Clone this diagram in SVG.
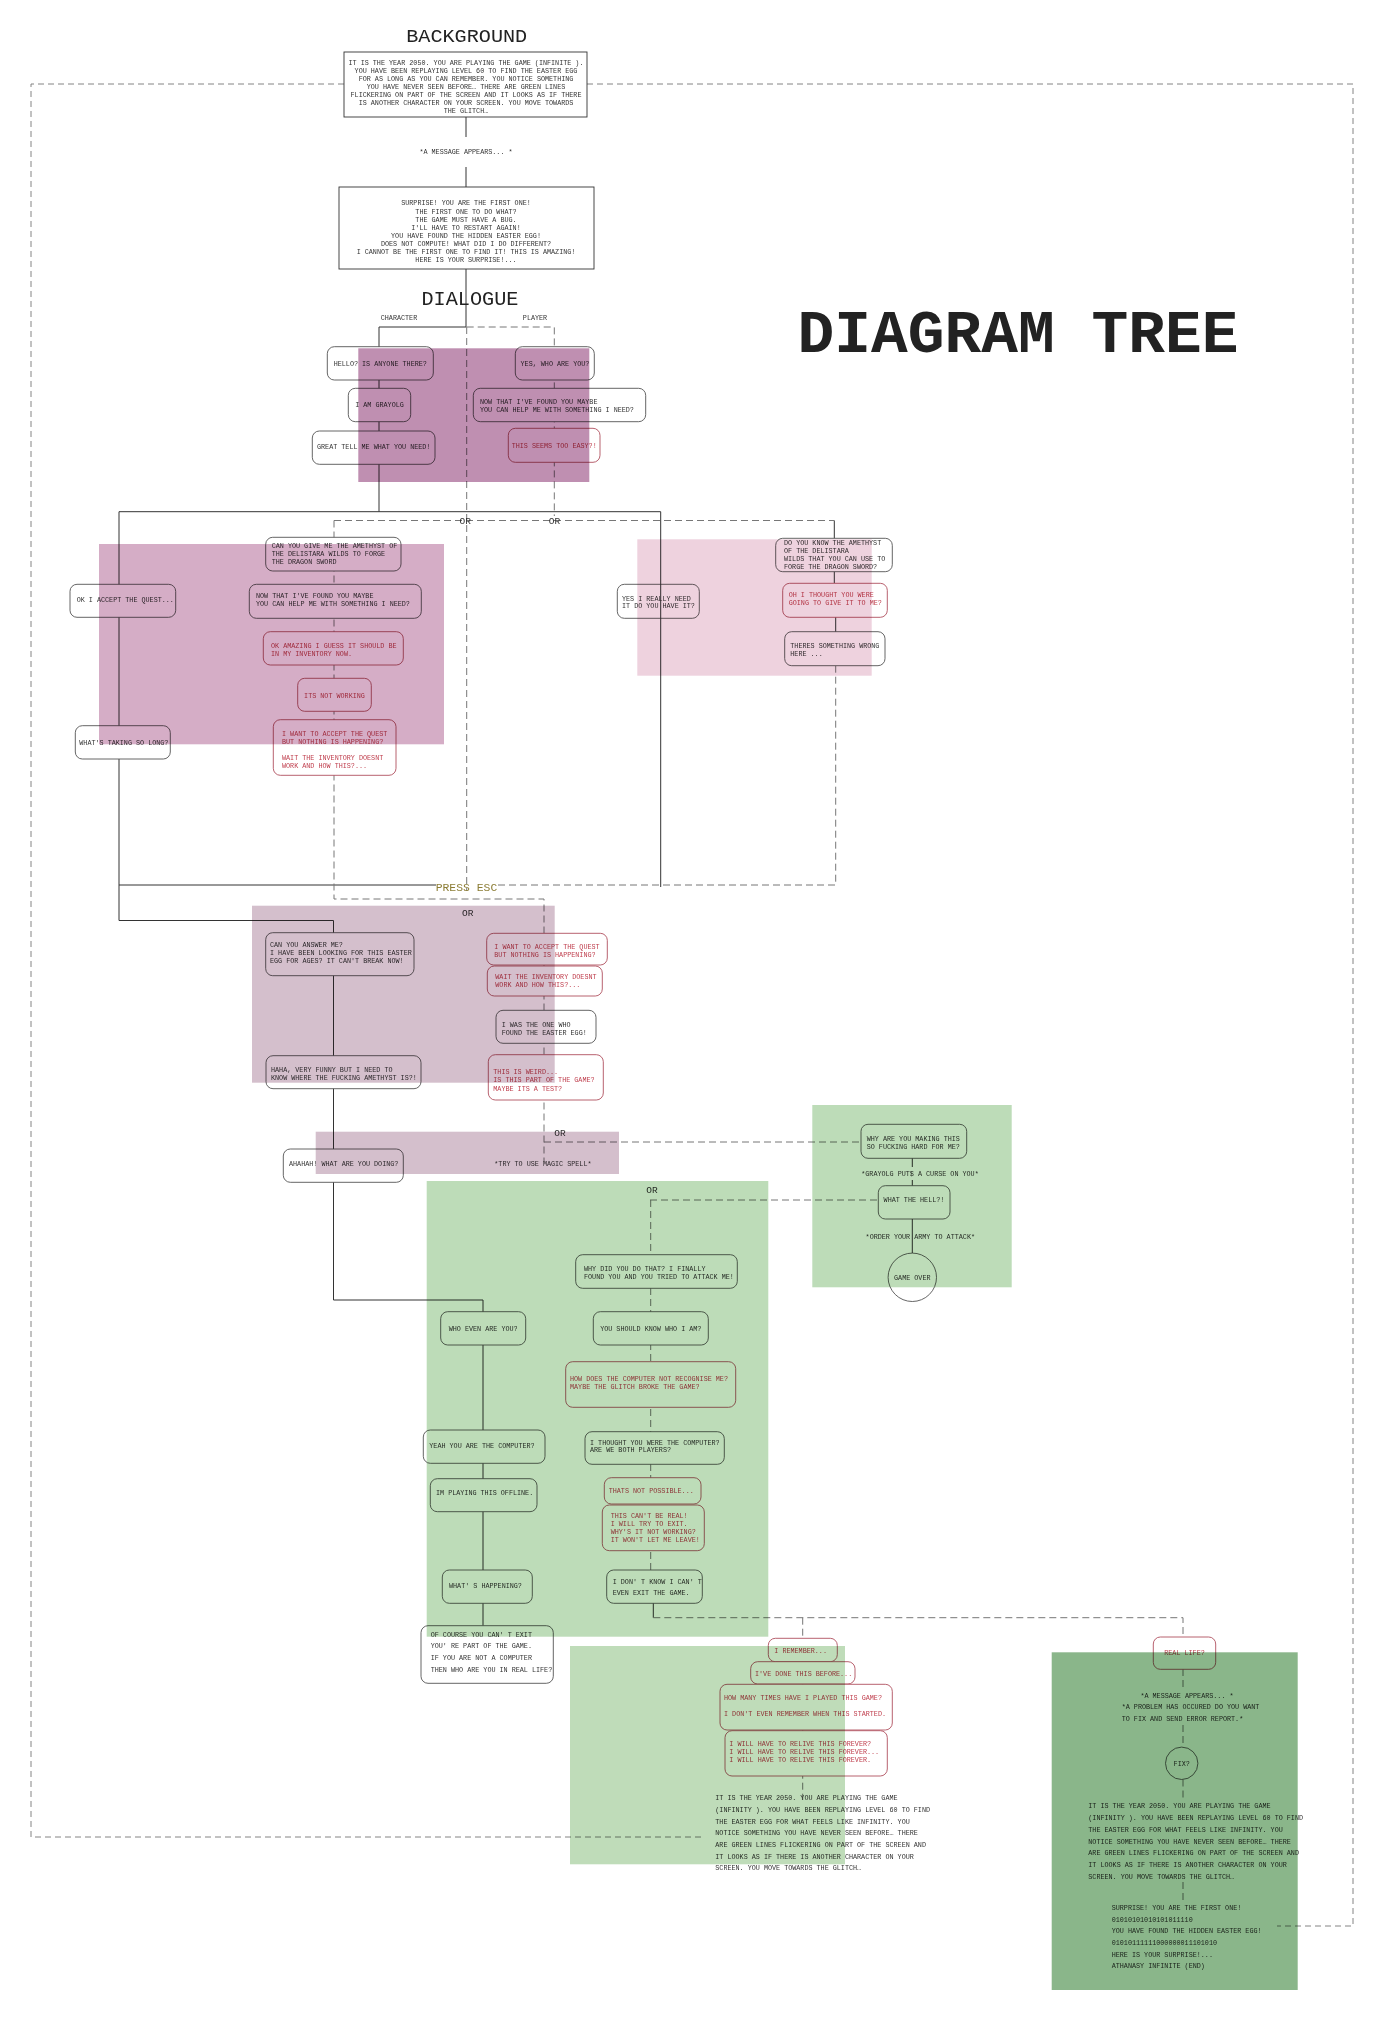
<svg xmlns="http://www.w3.org/2000/svg" width="1396" height="2026" viewBox="0 0 1396 2026">
<style>
.t{font-family:"Liberation Mono","DejaVu Sans Mono",monospace;font-size:6.75px;fill:#333}
.tr{fill:#c0404f}
.c{text-anchor:middle}
.ti{font-family:"Liberation Mono","DejaVu Sans Mono",monospace;fill:#222}
.or{font-family:"Liberation Mono","DejaVu Sans Mono",monospace;font-size:9.5px;fill:#333;text-anchor:middle}
.box{fill:#fff;stroke:#555;stroke-width:0.9}
.rbox{fill:#fff;stroke:#b0505f;stroke-width:0.9}
.sq{fill:#fff;stroke:#333;stroke-width:0.9}
.ln{stroke:#333;stroke-width:1;fill:none}
.dl{stroke:#777;stroke-width:1;stroke-dasharray:7 4;fill:none}
.fr{stroke:#777;stroke-width:0.9;stroke-dasharray:6 4;fill:none}
.ov{mix-blend-mode:multiply}
</style>
<rect width="1396" height="2026" fill="#fff"/>

<g id="connectors">
<path class="fr" d="M344,84 H31 V1837 H705 M587,84 H1353 V1926 H1277"/>
<path class="ln" d="M466,117 V137 M466,167 V187 M466,269 V327 H379 V511.7 M119,511.7 H660.7 M119,511.7 V920.5 H333.5 V1300 H483 V1625.7 M119,885 H436 M834.3,520.5 V583 M835.7,617 V632 M912.3,1158 V1167 M912.3,1180 V1186 M653.3,1603 V1617.7"/>
<path class="dl" d="M466.7,327 H554.3 V516 M466.7,327 V891 M334,520.5 H834.3 M334,520.5 V899 H544 V1162 M835.7,665.7 V885 M498,885 H835.7 M544,1142 H861 M650,1200 H878 M650.7,1200 V1570 M653.3,1617.7 H1183 V1637 M802.7,1617.7 V1800 M1183,1669 V1690 M1183,1725 V1747 M1183,1779.5 V1798 M1183,1882 V1902"/>
</g>

<g id="titles">
<text class="ti c" x="466.7" y="41.5" font-size="18" textLength="121" lengthAdjust="spacingAndGlyphs">BACKGROUND</text>
<text class="ti c" x="470" y="305" font-size="21" textLength="97" lengthAdjust="spacingAndGlyphs">DIALOGUE</text>
<text class="ti" x="797.5" y="351.6" font-size="62" font-weight="bold" textLength="441" lengthAdjust="spacingAndGlyphs">DIAGRAM TREE</text>
<text class="t c" x="399" y="320">CHARACTER</text>
<text class="t c" x="535" y="320">PLAYER</text>
</g>

<g id="bg1">
<rect class="sq" x="344" y="52" width="243" height="65"/>
<text class="t c" x="466" y="64.5">IT IS THE YEAR 2050. YOU ARE PLAYING THE GAME (INFINITE ).</text>
<text class="t c" x="466" y="72.5">YOU HAVE BEEN REPLAYING LEVEL 60 TO FIND THE EASTER EGG</text>
<text class="t c" x="466" y="80.5">FOR AS LONG AS YOU CAN REMEMBER. YOU NOTICE SOMETHING</text>
<text class="t c" x="466" y="88.5">YOU HAVE NEVER SEEN BEFORE… THERE ARE GREEN LINES</text>
<text class="t c" x="466" y="96.5">FLICKERING ON PART OF THE SCREEN AND IT LOOKS AS IF THERE</text>
<text class="t c" x="466" y="104.5">IS ANOTHER CHARACTER ON YOUR SCREEN. YOU MOVE TOWARDS</text>
<text class="t c" x="466" y="112.5">THE GLITCH…</text>
</g>
<g id="msg1"><text class="t c" x="466" y="154">*A MESSAGE APPEARS... *</text></g>
<g id="bg2">
<rect class="sq" x="339" y="187" width="255" height="82"/>
<text class="t c" x="466" y="205.3" font-size="6.4">SURPRISE! YOU ARE THE FIRST ONE!</text>
<text class="t c" x="466" y="213.5" font-size="6.4">THE FIRST ONE TO DO WHAT?</text>
<text class="t c" x="466" y="221.5" font-size="6.4">THE GAME MUST HAVE A BUG.</text>
<text class="t c" x="466" y="229.5" font-size="6.4">I'LL HAVE TO RESTART AGAIN!</text>
<text class="t c" x="466" y="237.5" font-size="6.4">YOU HAVE FOUND THE HIDDEN EASTER EGG!</text>
<text class="t c" x="466" y="245.5" font-size="6.4">DOES NOT COMPUTE! WHAT DID I DO DIFFERENT?</text>
<text class="t c" x="466" y="253.5" font-size="6.4">I CANNOT BE THE FIRST ONE TO FIND IT! THIS IS AMAZING!</text>
<text class="t c" x="466" y="261.5" font-size="6.4">HERE IS YOUR SURPRISE!...</text>
</g>

<g id="n-hello"><rect class="box" x="327.3" y="346.7" width="106" height="33.3" rx="7"/><text class="t c" x="380.3" y="365.5">HELLO? IS ANYONE THERE?</text></g>
<g id="n-yes"><rect class="box" x="515.3" y="346.7" width="79" height="33.3" rx="7"/><text class="t c" x="555" y="365.5">YES, WHO ARE YOU?</text></g>
<g id="n-iam"><rect class="box" x="348.3" y="388.3" width="62.4" height="33.4" rx="7"/><text class="t c" x="379.5" y="407.2">I AM  GRAYOLG</text></g>
<g id="n-now1"><rect class="box" x="473.3" y="388.3" width="172.4" height="33.4" rx="7"/><text class="t" x="480" y="403.5">NOW THAT I'VE FOUND YOU MAYBE</text><text class="t" x="480" y="411.9">YOU CAN HELP ME WITH SOMETHING I NEED?</text></g>
<g id="n-great"><rect class="box" x="312.3" y="431" width="122.7" height="33.3" rx="7"/><text class="t c" x="373.7" y="448.9">GREAT TELL ME WHAT YOU NEED!</text></g>
<g id="n-easy"><rect class="rbox" x="508.3" y="428.3" width="91.7" height="34" rx="7"/><text class="t tr c" x="554.2" y="448.2">THIS SEEMS TOO EASY?!</text></g>

<g id="n-give"><rect class="box" x="265.7" y="537.3" width="135.3" height="33.7" rx="7"/><text class="t" x="271.7" y="548.2">CAN YOU GIVE ME THE AMETHYST OF</text><text class="t" x="271.7" y="556.2">THE  DELISTARA WILDS TO FORGE</text><text class="t" x="271.7" y="564.2">THE DRAGON SWORD</text></g>
<g id="n-accept"><rect class="box" x="70" y="584.3" width="105.7" height="33" rx="7"/><text class="t" x="76.7" y="602.2">OK I ACCEPT THE QUEST...</text></g>
<g id="n-now2"><rect class="box" x="249.3" y="584.3" width="172" height="34" rx="7"/><text class="t" x="256" y="597.5">NOW THAT I'VE FOUND YOU MAYBE</text><text class="t" x="256" y="605.5">YOU CAN HELP ME WITH SOMETHING I NEED?</text></g>
<g id="n-amazing"><rect class="rbox" x="263.3" y="631.7" width="140" height="33.3" rx="7"/><text class="t tr" x="271" y="647.9">OK AMAZING I GUESS IT SHOULD BE</text><text class="t tr" x="271" y="656.2">IN MY INVENTORY NOW.</text></g>
<g id="n-notworking"><rect class="rbox" x="297.7" y="678.3" width="73.6" height="33" rx="7"/><text class="t tr c" x="334.5" y="698.2">ITS NOT WORKING</text></g>
<g id="n-taking"><rect class="box" x="75.3" y="725.7" width="95" height="33.3" rx="7"/><text class="t" x="79.3" y="744.9">WHAT'S TAKING SO LONG?</text></g>
<g id="n-want1"><rect class="rbox" x="273.3" y="719.7" width="122.7" height="55.6" rx="7"/><text class="t tr" x="282" y="736.2">I WANT TO ACCEPT THE QUEST</text><text class="t tr" x="282" y="744.2">BUT NOTHING IS HAPPENING?</text><text class="t tr" x="282" y="760.2">WAIT THE INVENTORY DOESNT</text><text class="t tr" x="282" y="768.2">WORK AND HOW THIS?...</text></g>

<g id="n-really"><rect class="box" x="617.3" y="584.3" width="82" height="34" rx="7"/><text class="t" x="622" y="600.5">YES I REALLY NEED</text><text class="t" x="622" y="608.2">IT DO YOU HAVE IT?</text></g>
<g id="n-know"><rect class="box" x="775.7" y="538.3" width="116.6" height="33.4" rx="7"/><text class="t" x="784" y="545.2">DO YOU KNOW THE AMETHYST</text><text class="t" x="784" y="552.9">OF THE DELISTARA</text><text class="t" x="784" y="560.9">WILDS THAT YOU CAN USE TO</text><text class="t" x="784" y="568.5">FORGE THE DRAGON SWORD?</text></g>
<g id="n-thought"><rect class="rbox" x="782.7" y="583.3" width="104.6" height="34" rx="7"/><text class="t tr" x="788.7" y="596.9">OH I THOUGHT YOU WERE</text><text class="t tr" x="788.7" y="604.9">GOING TO GIVE IT TO ME?</text></g>
<g id="n-wrong"><rect class="box" x="784.7" y="631.7" width="100.3" height="34" rx="7"/><text class="t" x="790.3" y="647.9">THERES SOMETHING WRONG</text><text class="t" x="790.3" y="656.2">HERE ...</text></g>

<g id="n-answer"><rect class="box" x="265.7" y="932.7" width="148.3" height="43" rx="7"/><text class="t" x="270" y="946.5">CAN YOU ANSWER ME?</text><text class="t" x="270" y="954.5">I HAVE BEEN LOOKING FOR THIS EASTER</text><text class="t" x="270" y="962.5">EGG FOR AGES? IT CAN'T BREAK NOW!</text></g>
<g id="n-haha"><rect class="box" x="266" y="1055.7" width="155" height="33" rx="7"/><text class="t" x="271" y="1071.5">HAHA, VERY FUNNY BUT I NEED TO</text><text class="t" x="271" y="1079.5">KNOW WHERE THE FUCKING AMETHYST IS?!</text></g>
<g id="n-want2"><rect class="rbox" x="486.7" y="933.3" width="120.6" height="31.7" rx="7"/><text class="t tr" x="494.3" y="949.2">I WANT TO ACCEPT THE QUEST</text><text class="t tr" x="494.3" y="957.2">BUT NOTHING IS HAPPENING?</text></g>
<g id="n-wait"><rect class="rbox" x="487.3" y="966" width="115" height="30" rx="7"/><text class="t tr" x="495.3" y="978.9">WAIT THE INVENTORY DOESNT</text><text class="t tr" x="495.3" y="986.9">WORK AND HOW THIS?...</text></g>
<g id="n-was"><rect class="box" x="496" y="1010.3" width="100" height="33" rx="7"/><text class="t" x="501.7" y="1026.5">I WAS THE ONE WHO</text><text class="t" x="501.7" y="1034.5">FOUND THE EASTER EGG!</text></g>
<g id="n-weird"><rect class="rbox" x="488.3" y="1054.7" width="115" height="45.3" rx="7"/><text class="t tr" x="493.3" y="1074.2">THIS IS WEIRD...</text><text class="t tr" x="493.3" y="1082.2">IS THIS PART OF THE GAME?</text><text class="t tr" x="493.3" y="1090.5">MAYBE ITS A TEST?</text></g>
<g id="n-ahah"><rect class="box" x="283.3" y="1149" width="120" height="33.3" rx="7"/><text class="t" x="289" y="1165.5">AHAHAH! WHAT ARE YOU DOING?</text></g>
<g id="t-magic"><text class="t" x="494.3" y="1165.5">*TRY TO USE MAGIC SPELL*</text></g>

<g id="n-making"><rect class="box" x="861" y="1124.3" width="105.7" height="34" rx="7"/><text class="t" x="866.7" y="1140.5">WHY ARE YOU MAKING THIS</text><text class="t" x="866.7" y="1148.9">SO FUCKING HARD FOR ME?</text></g>
<g id="t-curse"><text class="t c" x="920" y="1176.2">*GRAYOLG PUT$ A CURSE ON YOU*</text></g>
<g id="n-hell"><rect class="box" x="878.3" y="1185.7" width="71.7" height="33.3" rx="7"/><text class="t c" x="914" y="1202.2">WHAT THE HELL?!</text></g>
<g id="t-army"><text class="t c" x="920.3" y="1238.9">*ORDER YOUR ARMY TO ATTACK*</text></g>
<g id="n-gameover"><circle class="box" cx="912.3" cy="1277.3" r="24.2"/><text class="t c" x="912.3" y="1279.5">GAME OVER</text></g>

<g id="n-why"><rect class="box" x="575.7" y="1254.7" width="161.6" height="33.6" rx="7"/><text class="t" x="584" y="1270.9">WHY DID YOU DO THAT? I FINALLY</text><text class="t" x="584" y="1278.9">FOUND YOU AND YOU TRIED TO ATTACK ME!</text></g>
<g id="n-who"><rect class="box" x="440.7" y="1311.7" width="85" height="33.3" rx="7"/><text class="t c" x="483.2" y="1330.5">WHO EVEN ARE YOU?</text></g>
<g id="n-should"><rect class="box" x="593.3" y="1311.7" width="115" height="33.3" rx="7"/><text class="t c" x="650.8" y="1330.5">YOU SHOULD KNOW WHO I AM?</text></g>
<g id="n-recognise"><rect class="rbox" x="565.7" y="1361.7" width="170" height="45.6" rx="7"/><text class="t tr" x="570" y="1381.2">HOW DOES THE COMPUTER NOT RECOGNISE ME?</text><text class="t tr" x="570" y="1389.2">MAYBE THE GLITCH BROKE THE GAME?</text></g>
<g id="n-yeah"><rect class="box" x="423.3" y="1430" width="121.7" height="33.3" rx="7"/><text class="t" x="429.3" y="1448.2">YEAH YOU ARE THE COMPUTER?</text></g>
<g id="n-thought2"><rect class="box" x="585" y="1431.7" width="139.3" height="32.6" rx="7"/><text class="t" x="590" y="1444.5">I THOUGHT YOU WERE THE COMPUTER?</text><text class="t" x="590" y="1452.2">ARE WE BOTH PLAYERS?</text></g>
<g id="n-offline"><rect class="box" x="430.3" y="1478.7" width="106.7" height="33" rx="7"/><text class="t" x="436" y="1494.9">IM PLAYING THIS OFFLINE.</text></g>
<g id="n-possible"><rect class="rbox" x="604.3" y="1477.7" width="96.7" height="26.3" rx="7"/><text class="t tr" x="608.7" y="1492.9">THATS NOT POSSIBLE...</text></g>
<g id="n-real"><rect class="rbox" x="602.3" y="1505" width="102" height="45.7" rx="7"/><text class="t tr" x="610.7" y="1517.5">THIS CAN'T BE REAL!</text><text class="t tr" x="610.7" y="1525.5">I WILL TRY TO EXIT.</text><text class="t tr" x="610.7" y="1533.5">WHY'S IT NOT WORKING?</text><text class="t tr" x="610.7" y="1541.5">IT WON'T LET ME LEAVE!</text></g>
<g id="n-happening"><rect class="box" x="442.3" y="1570" width="90" height="33.3" rx="7"/><text class="t" x="449" y="1587.9">WHAT' S HAPPENING?</text></g>
<g id="n-dont"><rect class="box" x="606.7" y="1570" width="95.6" height="33.3" rx="7"/><text class="t" x="612.7" y="1583.5">I DON' T KNOW I CAN' T</text><text class="t" x="612.7" y="1594.9">EVEN EXIT THE GAME.</text></g>
<g id="n-course"><rect class="box" x="421" y="1625.7" width="132.3" height="57.6" rx="7"/><text class="t" x="430.7" y="1636.5">OF COURSE YOU CAN' T EXIT</text><text class="t" x="430.7" y="1648.2">YOU' RE PART OF THE GAME.</text><text class="t" x="430.7" y="1659.9">IF YOU ARE NOT A COMPUTER</text><text class="t" x="430.7" y="1671.5">THEN WHO ARE YOU IN REAL LIFE?</text></g>

<g id="n-remember"><rect class="rbox" x="768.3" y="1638.3" width="69" height="23.4" rx="7"/><text class="t tr" x="774.3" y="1652.9">I REMEMBER...</text></g>
<g id="n-before"><rect class="rbox" x="750.7" y="1661.7" width="104.3" height="22.3" rx="7"/><text class="t tr" x="755" y="1676.2">I'VE DONE THIS BEFORE...</text></g>
<g id="n-times"><rect class="rbox" x="720" y="1684.3" width="172.3" height="45.7" rx="7"/><text class="t tr" x="724" y="1700.2">HOW MANY TIMES HAVE I PLAYED THIS GAME?</text><text class="t tr" x="724" y="1716.2">I DON'T EVEN REMEMBER WHEN THIS STARTED.</text></g>
<g id="n-relive"><rect class="rbox" x="725" y="1730.7" width="162.3" height="45.3" rx="7"/><text class="t tr" x="729.3" y="1745.5">I WILL HAVE TO RELIVE THIS FOREVER?</text><text class="t tr" x="729.3" y="1753.9">I WILL HAVE TO RELIVE THIS FOREVER...</text><text class="t tr" x="729.3" y="1761.9">I WILL HAVE TO RELIVE THIS FOREVER.</text></g>
<g id="t-para1">
<text class="t" x="715.3" y="1800.2">IT IS THE YEAR 2050. YOU ARE PLAYING THE GAME</text>
<text class="t" x="715.3" y="1811.5">(INFINITY ). YOU HAVE BEEN REPLAYING LEVEL 60 TO FIND</text>
<text class="t" x="715.3" y="1823.5">THE EASTER EGG FOR WHAT FEELS LIKE INFINITY. YOU</text>
<text class="t" x="715.3" y="1835.2">NOTICE SOMETHING YOU HAVE NEVER SEEN BEFORE… THERE</text>
<text class="t" x="715.3" y="1846.9">ARE GREEN LINES FLICKERING ON PART OF THE SCREEN AND</text>
<text class="t" x="715.3" y="1858.5">IT LOOKS AS IF THERE IS ANOTHER CHARACTER ON YOUR</text>
<text class="t" x="715.3" y="1870.2">SCREEN. YOU MOVE TOWARDS THE GLITCH…</text>
</g>

<g id="n-reallife"><rect class="rbox" x="1153.3" y="1637" width="62.4" height="32.3" rx="7"/><text class="t tr c" x="1184.5" y="1654.9">REAL LIFE?</text></g>
<g id="t-msg2">
<text class="t c" x="1187" y="1698.2">*A  MESSAGE  APPEARS...  *</text>
<text class="t" x="1121.7" y="1708.9">*A PROBLEM HAS OCCURED DO YOU WANT</text>
<text class="t" x="1121.7" y="1720.5">TO FIX AND SEND ERROR REPORT.*</text>
</g>
<g id="n-fix"><circle class="box" cx="1181.7" cy="1763.3" r="16.2"/><text class="t c" x="1181.7" y="1765.5">FIX?</text></g>
<g id="t-para2">
<text class="t" x="1088.3" y="1808.2">IT IS THE YEAR 2050. YOU ARE PLAYING THE GAME</text>
<text class="t" x="1088.3" y="1819.9">(INFINITY ). YOU HAVE BEEN REPLAYING LEVEL 60 TO FIND</text>
<text class="t" x="1088.3" y="1831.5">THE EASTER EGG FOR WHAT FEELS LIKE INFINITY. YOU</text>
<text class="t" x="1088.3" y="1843.5">NOTICE SOMETHING YOU HAVE NEVER SEEN BEFORE… THERE</text>
<text class="t" x="1088.3" y="1854.9">ARE GREEN LINES FLICKERING ON PART OF THE SCREEN AND</text>
<text class="t" x="1088.3" y="1866.5">IT LOOKS AS IF THERE IS ANOTHER CHARACTER ON YOUR</text>
<text class="t" x="1088.3" y="1878.5">SCREEN. YOU MOVE TOWARDS THE GLITCH…</text>
</g>
<g id="t-surprise">
<text class="t" x="1111.7" y="1909.9">SURPRISE! YOU ARE THE FIRST ONE!</text>
<text class="t" x="1111.7" y="1921.5">01010101010101011110</text>
<text class="t" x="1111.7" y="1933.2">YOU HAVE FOUND THE HIDDEN EASTER EGG!</text>
<text class="t" x="1111.7" y="1944.9">01010111111000000011101010</text>
<text class="t" x="1111.7" y="1956.5">HERE IS YOUR SURPRISE!...</text>
<text class="t" x="1111.7" y="1968.2">ATHANASY INFINITE (END)</text>
</g>

<g id="labels">
<text class="or" x="465.3" y="524.4">OR</text>
<text class="or" x="554.5" y="524.4">OR</text>
<text class="or" x="467.7" y="916">OR</text>
<text class="or" x="560" y="1135.6">OR</text>
<text class="or" x="652" y="1193.3">OR</text>
<text class="ti" x="435.7" y="890.5" font-size="11" style="fill:#8c7d35" textLength="61.6" lengthAdjust="spacingAndGlyphs">PRESS ESC</text>
</g>

<g id="over-lines">
<path class="ln" d="M660.7,511.7 V887 M912.3,1219 V1253"/>
</g>

<g id="overlays">
<rect class="ov" x="358.3" y="348.3" width="231" height="133.7" fill="#bf8fb1"/>
<rect class="ov" x="99" y="544" width="345" height="200.3" fill="#d5adc6"/>
<rect class="ov" x="637.3" y="539.3" width="234.4" height="136.4" fill="#eed2de"/>
<rect class="ov" x="252" y="905.7" width="302.7" height="177" fill="#d4bfcc"/>
<rect class="ov" x="315.7" y="1131.7" width="303.3" height="42.3" fill="#d4bfcc"/>
<rect class="ov" x="426.7" y="1181" width="341.6" height="455.7" fill="#bddcb8"/>
<rect class="ov" x="812.3" y="1105" width="199.4" height="182.3" fill="#bddcb8"/>
<rect class="ov" x="570" y="1646" width="275" height="218.3" fill="#bfdcb9"/>
<rect class="ov" x="1051.7" y="1652.3" width="246" height="337.7" fill="#8ab68a"/>
</g>
</svg>
